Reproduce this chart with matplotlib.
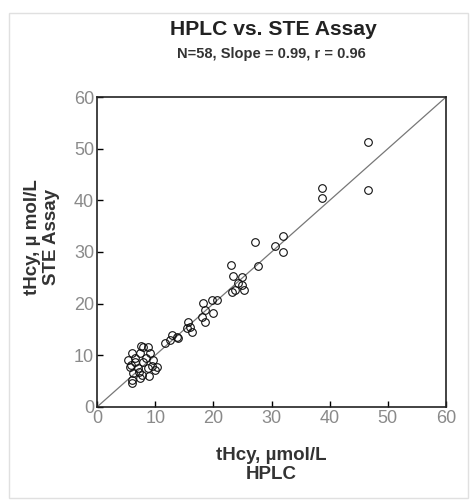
import matplotlib
matplotlib.use('Agg')
import matplotlib.pyplot as plt
from matplotlib.patches import Rectangle
import numpy as np

plt.rcParams['font.family'] = ['Liberation Sans', 'DejaVu Sans']

# HPLC (x) vs STE assay (y), umol/L
hplc = [46.6, 46.6, 38.7, 38.7, 27.1, 32.0, 30.6, 32.0, 27.7, 23.0, 23.4, 24.9,
        23.7, 24.2, 24.9, 23.2, 25.3,
        20.6, 19.8, 18.2, 18.6, 19.9, 18.0, 18.6,
        15.6, 16.0, 16.3, 15.5,
        12.9, 13.7, 12.5, 11.7, 13.9,
        7.9, 8.8, 6.0, 7.4, 9.1, 5.3, 6.5, 7.9, 9.6, 10.3, 5.7, 7.0, 8.8,
        6.2, 7.7, 6.0, 7.4, 6.0, 10.0, 9.5, 8.5, 6.5, 7.2, 5.8, 9.0, 7.5]
ste = [51.3, 42.0, 42.4, 40.4, 31.9, 33.1, 31.1, 30.0, 27.3, 27.5, 25.3, 25.1,
       22.6, 24.0, 23.6, 22.2, 22.6,
       20.7, 20.7, 20.1, 18.8, 18.2, 17.4, 16.4,
       16.4, 15.5, 14.5, 15.3,
       13.9, 13.5, 13.0, 12.4, 13.3,
       11.6, 11.6, 10.4, 10.4, 10.4, 9.1, 8.7, 8.7, 9.1, 7.7, 7.7, 7.5, 7.5,
       6.6, 6.2, 5.2, 5.6, 4.6, 7.2, 8.0, 9.5, 9.5, 6.8, 8.2, 6.0, 11.8]
fit_x = [0, 60]
fit_y = [0, 60]
ticks = [0, 10, 20, 30, 40, 50, 60]

fig = plt.figure(figsize=(4.71, 5.04), dpi=100)
fig.patches.append(Rectangle((0.019, 0.012), 0.975, 0.963, transform=fig.transFigure,
                             fill=False, edgecolor='#e0e0e0', linewidth=1))
ax = fig.add_axes([0.206, 0.1925, 0.741, 0.615])

ax.plot(fit_x, fit_y, color='#777777', linewidth=0.9)
ax.plot(hplc, ste, linestyle='none', marker='o', markersize=5.5,
        markerfacecolor='none', markeredgecolor='#111111', markeredgewidth=0.8)

ax.set_xlim(0, 60)
ax.set_ylim(0, 60)
ax.set_xticks(ticks)
ax.set_yticks(ticks)
ax.tick_params(direction='in', length=4, width=1, labelsize=13,
               labelcolor='#8a8a8a', pad=2)
for s in ax.spines.values():
    s.set_linewidth(1.2)
    s.set_color('#222222')

fig.text(0.58, 0.942, 'HPLC vs. STE Assay', ha='center', va='center',
         fontsize=15.2, fontweight='bold', color='#222222')
fig.text(0.577, 0.893, 'N=58, Slope = 0.99, r = 0.96', ha='center', va='center',
         fontsize=10.5, fontweight='bold', color='#333333')
fig.text(0.575, 0.077, 'tHcy, \u00b5mol/L\nHPLC', ha='center', va='center',
         fontsize=13.5, fontweight='bold', color='#333333', linespacing=1.2)
fig.text(0.089, 0.53, 'tHcy, \u00b5 mol/L\nSTE Assay', ha='center', va='center',
         rotation=90, fontsize=13.5, fontweight='bold', color='#333333',
         linespacing=1.15)

fig.savefig('out.png', dpi=100)
